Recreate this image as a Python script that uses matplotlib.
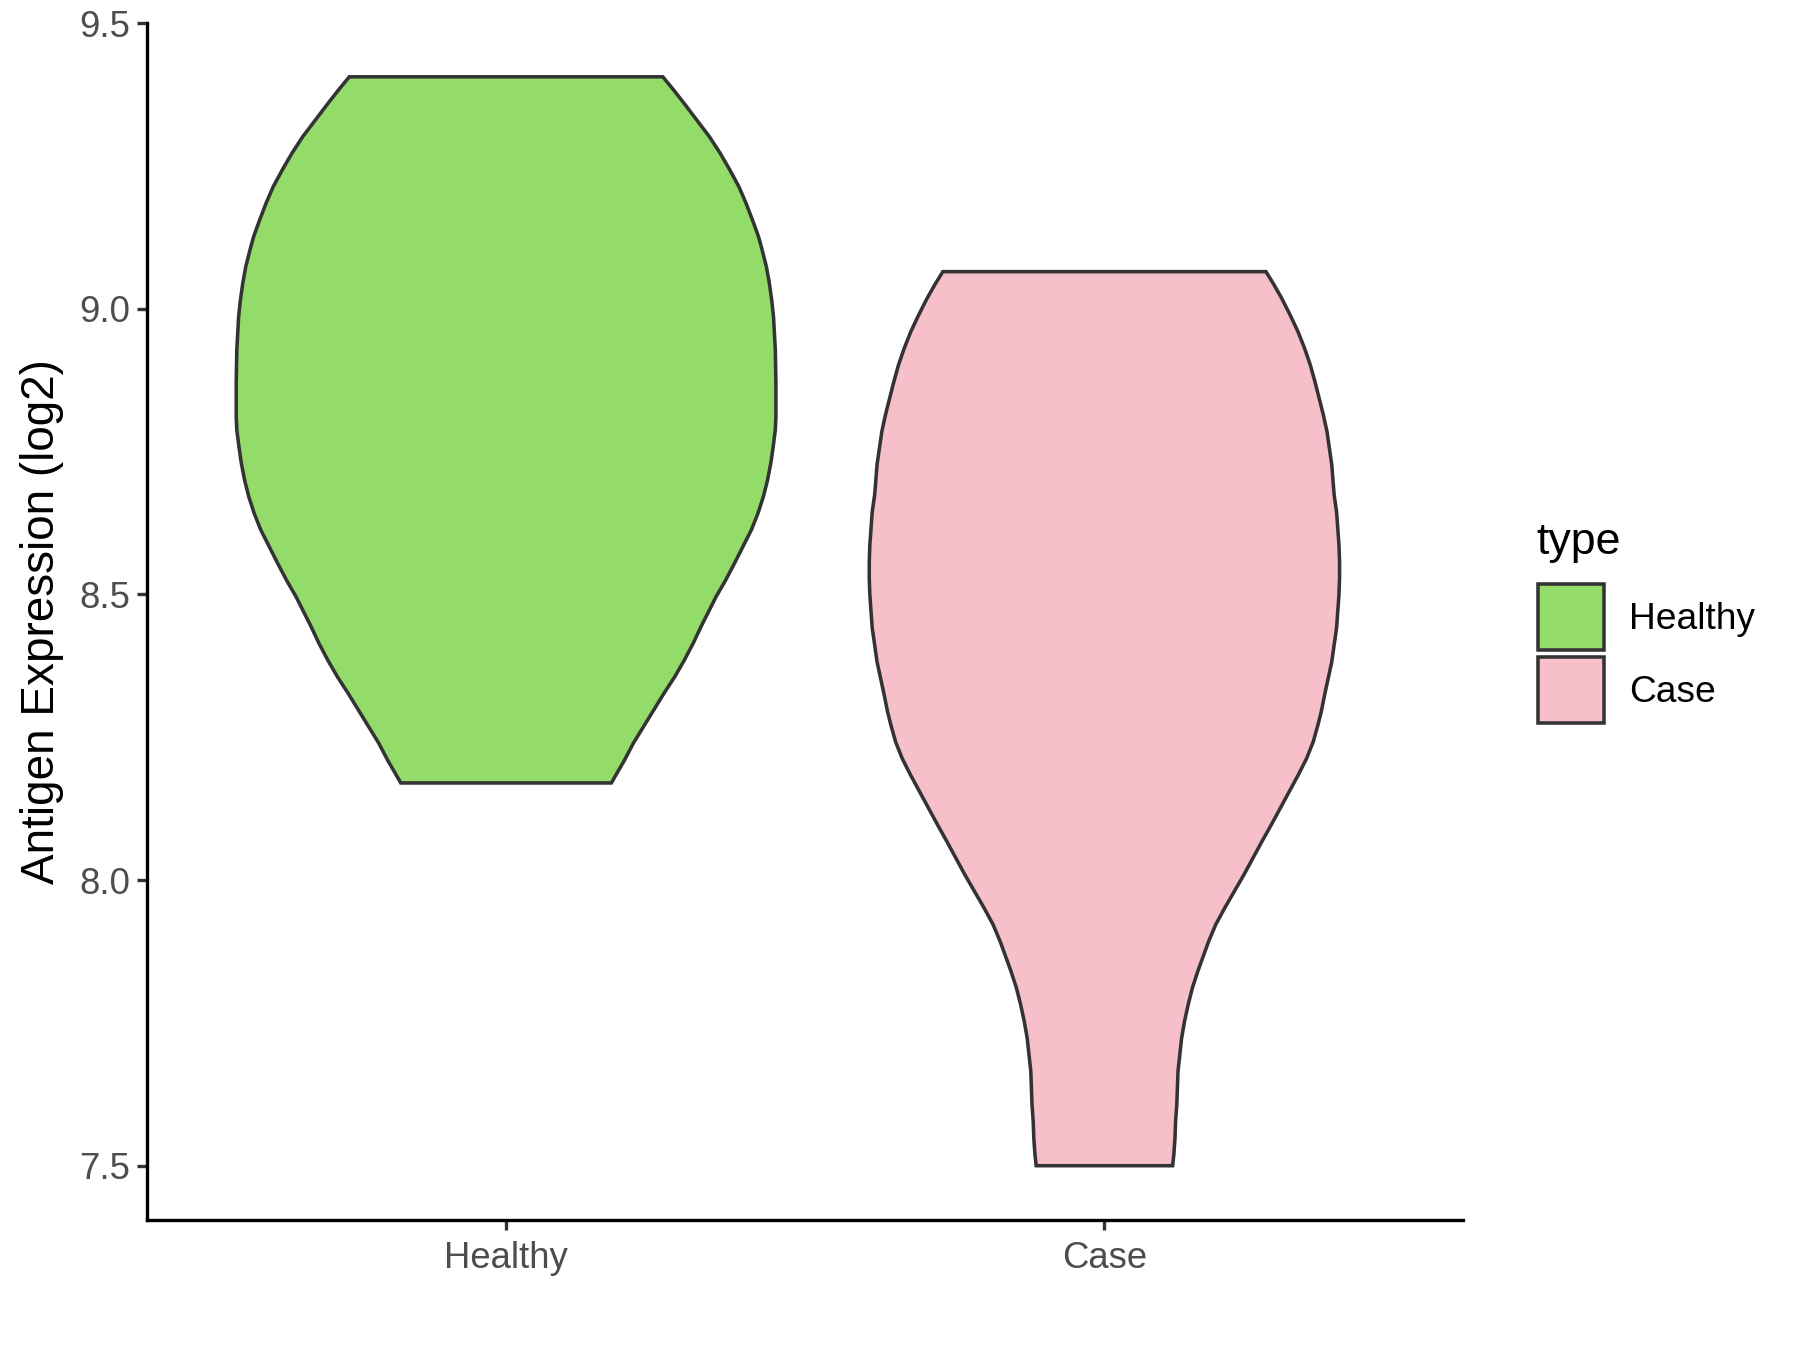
import numpy as np
import matplotlib
matplotlib.use('Agg')
from matplotlib import pyplot as plt
from matplotlib.patches import Patch

plt.rcParams['font.family'] = ['Liberation Sans', 'DejaVu Sans']

####

groups = ['Healthy', 'Case']
colors = ['#93DC6A', '#F7BFCA']

# violin outlines: expression level and half width (x units)
healthy_y = [9.406, 9.383, 9.359, 9.330, 9.301, 9.272, 9.243, 9.214, 9.185, 9.155,
             9.126, 9.103, 9.074, 9.045, 9.015, 8.986, 8.928, 8.870, 8.811, 8.788,
             8.759, 8.730, 8.700, 8.671, 8.642, 8.613, 8.584, 8.555, 8.525, 8.496,
             8.473, 8.444, 8.415, 8.385, 8.356, 8.327, 8.298, 8.269, 8.240, 8.210,
             8.181, 8.170]
healthy_w = [0.262, 0.280, 0.298, 0.319, 0.340, 0.358, 0.374, 0.389, 0.401, 0.412,
             0.422, 0.428, 0.435, 0.440, 0.444, 0.447, 0.450, 0.451, 0.451, 0.450,
             0.4465, 0.4425, 0.437, 0.430, 0.421, 0.410, 0.396, 0.382, 0.367, 0.351,
             0.340, 0.326, 0.313, 0.298, 0.282, 0.264, 0.247, 0.230, 0.213, 0.198,
             0.182, 0.176]

case_y = [9.065, 9.042, 9.018, 8.989, 8.960, 8.931, 8.902, 8.872, 8.843, 8.814,
          8.785, 8.756, 8.727, 8.700, 8.674, 8.645, 8.616, 8.587, 8.557, 8.528,
          8.499, 8.470, 8.441, 8.412, 8.382, 8.353, 8.324, 8.295, 8.272, 8.242,
          8.213, 8.184, 8.155, 8.126, 8.097, 8.067, 8.038, 8.009, 7.980, 7.951,
          7.922, 7.892, 7.869, 7.840, 7.811, 7.782, 7.753, 7.723, 7.694, 7.665,
          7.636, 7.607, 7.578, 7.548, 7.519, 7.500]
case_w = [0.270, 0.2835, 0.2965, 0.3105, 0.3235, 0.3345, 0.344, 0.352, 0.359, 0.366,
          0.372, 0.376, 0.380, 0.382, 0.384, 0.388, 0.390, 0.392, 0.393, 0.393,
          0.392, 0.390, 0.388, 0.384, 0.380, 0.374, 0.368, 0.3625, 0.357, 0.349,
          0.338, 0.324, 0.309, 0.294, 0.279, 0.263, 0.248, 0.233, 0.217, 0.201,
          0.186, 0.174, 0.166, 0.156, 0.147, 0.140, 0.134, 0.129, 0.126, 0.123,
          0.122, 0.121, 0.119, 0.118, 0.116, 0.114]

yticks = [7.5, 8.0, 8.5, 9.0, 9.5]

####

fig = plt.figure(figsize=(12, 9), dpi=150)
ax = fig.add_axes([0.0817, 0.0963, 0.7313, 0.887])

profiles = [(healthy_y, healthy_w), (case_y, case_w)]
for i, (yy, ww) in enumerate(profiles):
  pos = i + 1
  yy = np.array(yy)
  ww = np.array(ww)
  # right side top->bottom, then left side bottom->top
  xs = np.concatenate([pos + ww, (pos - ww)[::-1]])
  ys = np.concatenate([yy, yy[::-1]])
  ax.fill(xs, ys, facecolor=colors[i], edgecolor='#333333', linewidth=1.7,
          joinstyle='miter')

ax.set_xlim(0.4, 2.6)
ax.set_ylim(7.405, 9.501)
ax.set_xticks([1, 2])
ax.set_xticklabels(groups)
ax.set_yticks(yticks)
ax.set_yticklabels(['%.1f' % t for t in yticks])

for s in ['top', 'right']:
  ax.spines[s].set_visible(False)
for s in ['left', 'bottom']:
  ax.spines[s].set_linewidth(1.6)
  ax.spines[s].set_color('black')
  ax.spines[s].set_capstyle('projecting')

ax.tick_params(axis='both', length=4.8, width=1.6, color='#333333',
               labelsize=17.5, labelcolor='#4D4D4D')
ax.tick_params(axis='x', pad=5.1)
ax.tick_params(axis='y', pad=3.5)
ax.set_ylabel('Antigen Expression (log2)', fontsize=22, color='black', labelpad=7)

# legend: title as separate text so the gap to the keys matches
fig.text(0.8533, 0.5985, 'type', fontsize=21.5, ha='left', va='center')
handles = [Patch(facecolor=c, edgecolor='#333333', linewidth=1.7, label=g)
           for c, g in zip(colors, groups)]
leg = fig.legend(handles=handles, loc='upper left',
                 bbox_to_anchor=(0.8546, 0.5671), frameon=False, fontsize=17.8,
                 handlelength=1.77, handleheight=2.34,
                 labelspacing=0.2, handletextpad=0.68, borderpad=0,
                 borderaxespad=0)

fig.savefig('out.png', dpi=150)
